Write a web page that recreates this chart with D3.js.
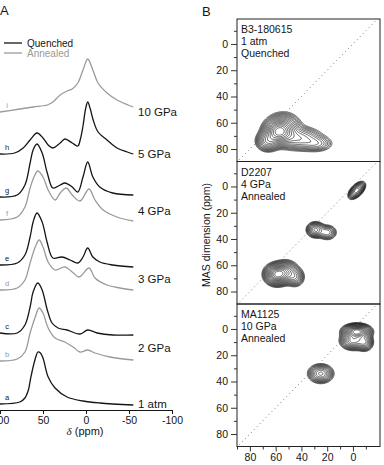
<!DOCTYPE html>
<html>
<head>
<meta charset="utf-8">
<script src="https://cdn.jsdelivr.net/npm/d3@7"></script>
<style>
  body { margin: 0; background: #fff; }
  svg { font-family: "Liberation Sans", Arial, sans-serif; }
</style>
</head>
<body>
<svg width="384" height="465"></svg>
<script>
// ---------- panel A: 1D spectra, [ppm, height above own baseline] ----------
const specA = [[100,0],[77,2],[71,6],[67,14],[64.5,25],[61.5,37],[58,48],[56,52],[53,51],[50,46],[44,27],[36,16],[22,7],[3.5,3],[-16,1],[-55,-1]];
const specB = [[100,0],[80,2],[71,9],[65,28],[59,44],[54.5,53],[50,48],[44,33],[36,23],[24.5,19],[15,14],[7,9],[-2,11],[-10.5,8],[-28,4],[-55,1]];
const specC = [[100,0],[80,0],[71,8],[65,26],[61.5,41],[56,50],[51,43],[45,23],[39.5,10],[32.5,5],[22,3],[7,-1],[-2,3],[-13,0],[-31,-2],[-55,-2]];
const specD = [[100,0],[80,2],[71,10],[65,27],[59,43],[54.5,50],[50,43],[44,28],[36,20],[24.5,23],[16,18],[8,13],[-3.5,22],[-10.5,12],[-24.5,5],[-39.5,2],[-55,0]];
const specE = [[100,0],[80,2],[71,10],[65,28],[61.5,43],[57,52],[51,43],[45,22],[38.5,7],[28,8],[18.5,5],[9.5,2],[3.5,8],[-2,17],[-8,8],[-16,3],[-31,0],[-55,-2]];
const specF = [[100,0],[80,3],[71,13],[65,32],[60.5,43],[56,49],[50,43],[44,30],[36,20],[30,27],[23,32],[16,25],[7,19],[-3.5,31],[-10.5,20],[-20,10],[-36,3],[-55,-1]];
const specG = [[100,0],[80,2],[71,12],[65,34],[61.5,47],[57,53],[51,44],[45,24],[38.5,9],[30,12],[24.5,14],[16,10],[9.5,5],[3.5,20],[-2,35],[-8,20],[-16,10],[-31,4],[-55,2]];
const specH = [[100,0],[83,1],[73,6],[65,14],[57,21],[50,16],[44,9],[38.5,6],[30,11],[24.5,15],[16,11],[9.5,8],[6.5,15],[3.5,28],[0.5,45],[-2,52],[-5,45],[-8,35],[-14,22],[-24.5,14],[-36,6],[-48,2],[-55,0]];
const specI = [[100,0],[77,3],[61.5,5],[45,7],[38.5,10],[30,17],[22,21],[16,23],[9.5,29],[3.5,42],[-2,53],[-8,42],[-14,29],[-24.5,19],[-36,12],[-49,7],[-55,5]];

const traceLetters = ["a","b","c","d","e","f","g","h","i"];
const traceSpectra = [specA, specB, specC, specD, specE, specF, specG, specH, specI];
const traceState   = ["Q","A","Q","A","Q","A","Q","Q","A"];
const traceOffsets = [6, 49, 77, 120, 145, 190, 213, 256, 298];

const pressureLabels = ["10 GPa","5 GPa","4 GPa","3 GPa","2 GPa","1 atm"];
const pressureLevels = [298, 256, 199, 131, 62, 6];
const ticksA = [100, 50, 0, -50, -100];

// ---------- panel B: 2D MQMAS, peak components [F2 ppm, MAS ppm, sx, sy, angle, amp] ----------
const sampleIds   = ["B3-180615", "D2207", "MA1125"];
const sampleP     = ["1 atm", "4 GPa", "10 GPa"];
const sampleState = ["Quenched", "Annealed", "Annealed"];
const peaksB3 = [[58,67,5.5,4.5,0,1],[54,64,6.5,5.5,0,0.55],[42,72,9,4.5,0,0.4],[28,76,6.5,3.2,0,0.2],[66,74,4.5,3.8,0,0.5]];
const peaksD2207 = [[59,67,4.5,3.8,0,1],[52,65,4.5,4,0,0.5],[45,69,3.5,3.5,0,0.3],[29,33,3.3,2.8,0,0.45],[20,35,3.6,2.8,0,0.25],[-3,3,3.8,2,45,0.5]];
const peaksMA1125 = [[-3,2,5,2.6,0,1],[0,9,4.6,3.2,0,0.5],[-9,10,3.2,3.2,0,0.35],[25,34,4.6,3.4,0,0.4]];
const samplePeaks = [peaksB3, peaksD2207, peaksMA1125];
const contourLevels = [0.03,0.04,0.052,0.067,0.085,0.11,0.14,0.18,0.23,0.29,0.36,0.44,0.53,0.63,0.74,0.86];
const ticksMajor = [0, 20, 40, 60, 80];
const ticksMinor = [-10, 10, 30, 50, 70];

const svg = d3.select("svg");
const black = "#151515", grey = "#9a9a9a";

// ====================== panel A ======================
const xA = d3.scaleLinear().domain([100, -100]).range([0, 172]);
const yA = d3.scaleLinear().domain([0, 410]).range([410, 0]);

const lineA = d3.line()
    .x(d => xA(d[0]))
    .y(d => yA(d[1]))
    .curve(d3.curveCatmullRom.alpha(0.5));

traceSpectra.forEach((spec, k) => {
    const off = traceOffsets[k];
    const col = traceState[k] === "Q" ? black : grey;
    svg.append("path")
        .attr("d", lineA(spec.map(p => [p[0], p[1] + off])))
        .attr("fill", "none")
        .attr("stroke", col)
        .attr("stroke-width", 1.3);
    svg.append("text")
        .attr("x", 7).attr("y", yA(off + 7))
        .attr("text-anchor", "middle")
        .attr("dominant-baseline", "central")
        .attr("font-size", 7.5)
        .attr("fill", col)
        .text(traceLetters[k]);
});

pressureLabels.forEach((t, k) => {
    svg.append("text")
        .attr("x", 138).attr("y", yA(pressureLevels[k]))
        .attr("dominant-baseline", "central")
        .attr("font-size", 11.5)
        .attr("fill", black)
        .text(t);
});

const axA = svg.append("g")
    .attr("transform", "translate(0,410)")
    .call(d3.axisBottom(xA).tickValues(ticksA).tickSize(4).tickSizeOuter(0).tickPadding(3).tickFormat(d => String(d)));
axA.selectAll("text").attr("font-size", 10.5).attr("fill", black).attr("font-family", "Liberation Sans, Arial, sans-serif");
axA.selectAll("line,path").attr("stroke", black);

const xlab = svg.append("text")
    .attr("x", 85).attr("y", 435)
    .attr("text-anchor", "middle")
    .attr("font-size", 11)
    .attr("fill", black);
xlab.append("tspan").attr("font-style", "italic").attr("font-family", "Liberation Serif, serif").text("δ");
xlab.append("tspan").text(" (ppm)");

// legend
[["Quenched", black, 43], ["Annealed", grey, 53]].forEach(([t, c, y]) => {
    svg.append("line").attr("x1", 4).attr("x2", 22).attr("y1", y).attr("y2", y)
        .attr("stroke", c).attr("stroke-width", 1.3);
    svg.append("text").attr("x", 27).attr("y", y)
        .attr("dominant-baseline", "central")
        .attr("font-size", 10).attr("fill", c).text(t);
});

svg.append("text").attr("x", 0).attr("y", 15).attr("font-size", 13).attr("fill", black).text("A");
svg.append("text").attr("x", 202).attr("y", 16).attr("font-size", 13).attr("fill", black).text("B");

// ====================== panel B ======================
const bx0 = 237, bx1 = 380, ph = 142.5;
const panelTops = [19, 161.5, 304];
const xB = d3.scaleLinear().domain([90, -21]).range([bx0, bx1]);

function field(peaks, px, py) {
    let s = 0;
    for (const [cx, cy, sx, sy, ang, amp] of peaks) {
        const a = ang * Math.PI / 180;
        const dx = px - cx, dy = py - cy;
        const u = dx * Math.cos(a) + dy * Math.sin(a);
        const v = -dx * Math.sin(a) + dy * Math.cos(a);
        s += amp * Math.exp(-0.5 * (u * u / (sx * sx) + v * v / (sy * sy)));
    }
    return s;
}

const defs = svg.append("defs");

samplePeaks.forEach((peaks, k) => {
    const top = panelTops[k];
    const yB = d3.scaleLinear().domain([-19, 89.5]).range([top, top + ph]);
    const g = svg.append("g");

    defs.append("clipPath").attr("id", "clip" + k)
        .append("rect").attr("x", bx0).attr("y", top).attr("width", bx1 - bx0).attr("height", ph);

    // contour grid, one cell per pixel
    const n = Math.round(bx1 - bx0), m = Math.round(ph);
    const vals = new Array(n * m);
    for (let j = 0; j < m; j++) {
        const py = yB.invert(top + (j + 0.5) * ph / m);
        for (let i = 0; i < n; i++) {
            const px = xB.invert(bx0 + (i + 0.5) * (bx1 - bx0) / n);
            vals[i + j * n] = field(peaks, px, py);
        }
    }
    const mx = d3.max(vals);
    const cs = d3.contours().size([n, m]).thresholds(contourLevels.map(l => l * mx))(vals);
    g.append("g")
        .attr("clip-path", `url(#clip${k})`)
        .append("g")
        .attr("transform", `translate(${bx0},${top}) scale(${(bx1 - bx0) / n},${ph / m})`)
        .selectAll("path").data(cs).join("path")
        .attr("d", d3.geoPath())
        .attr("fill", "none")
        .attr("stroke", "#000")
        .attr("stroke-width", 0.6)
        .attr("vector-effect", "non-scaling-stroke");

    // diagonal
    const diag = [95, -25];
    g.append("path")
        .attr("clip-path", `url(#clip${k})`)
        .attr("d", d3.line().x(d => xB(d)).y(d => yB(d))(diag))
        .attr("stroke", "#777").attr("stroke-width", 1)
        .attr("stroke-dasharray", "1,3.2").attr("fill", "none");

    // frame
    g.append("rect").attr("x", bx0).attr("y", top).attr("width", bx1 - bx0).attr("height", ph)
        .attr("fill", "none").attr("stroke", "#222").attr("stroke-width", 1);

    // left axis
    const ax = g.append("g").attr("transform", `translate(${bx0},0)`)
        .call(d3.axisLeft(yB).tickValues(ticksMajor).tickSize(6).tickPadding(3));
    const axm = g.append("g").attr("transform", `translate(${bx0},0)`)
        .call(d3.axisLeft(yB).tickValues(ticksMinor).tickSize(3).tickFormat(""));
    [ax, axm].forEach(a => {
        a.select(".domain").remove();
        a.selectAll("line").attr("stroke", "#333");
        a.selectAll("text").attr("font-size", 10.5).attr("fill", black).attr("font-family", "Liberation Sans, Arial, sans-serif");
    });

    // panel text
    [sampleIds[k], sampleP[k], sampleState[k]].forEach((t, r) => {
        g.append("text").attr("x", 241).attr("y", top + 10 + r * 12)
            .attr("dominant-baseline", "central")
            .attr("font-size", 10.5).attr("fill", black).text(t);
    });

    if (k === samplePeaks.length - 1) {
        const bx = g.append("g").attr("transform", `translate(0,${top + ph})`)
            .call(d3.axisBottom(xB).tickValues(ticksMajor).tickSize(5).tickPadding(2));
        const bxm = g.append("g").attr("transform", `translate(0,${top + ph})`)
            .call(d3.axisBottom(xB).tickValues(ticksMinor.concat([90])).tickSize(3).tickFormat(""));
        [bx, bxm].forEach(a => {
            a.select(".domain").remove();
            a.selectAll("line").attr("stroke", "#333");
            a.selectAll("text").attr("font-size", 10.5).attr("fill", black).attr("font-family", "Liberation Sans, Arial, sans-serif");
        });
    }
});

svg.append("text")
    .attr("transform", "translate(206,235) rotate(-90)")
    .attr("text-anchor", "middle")
    .attr("dominant-baseline", "central")
    .attr("font-size", 10.5).attr("fill", black)
    .text("MAS dimension (ppm)");
</script>
</body>
</html>
